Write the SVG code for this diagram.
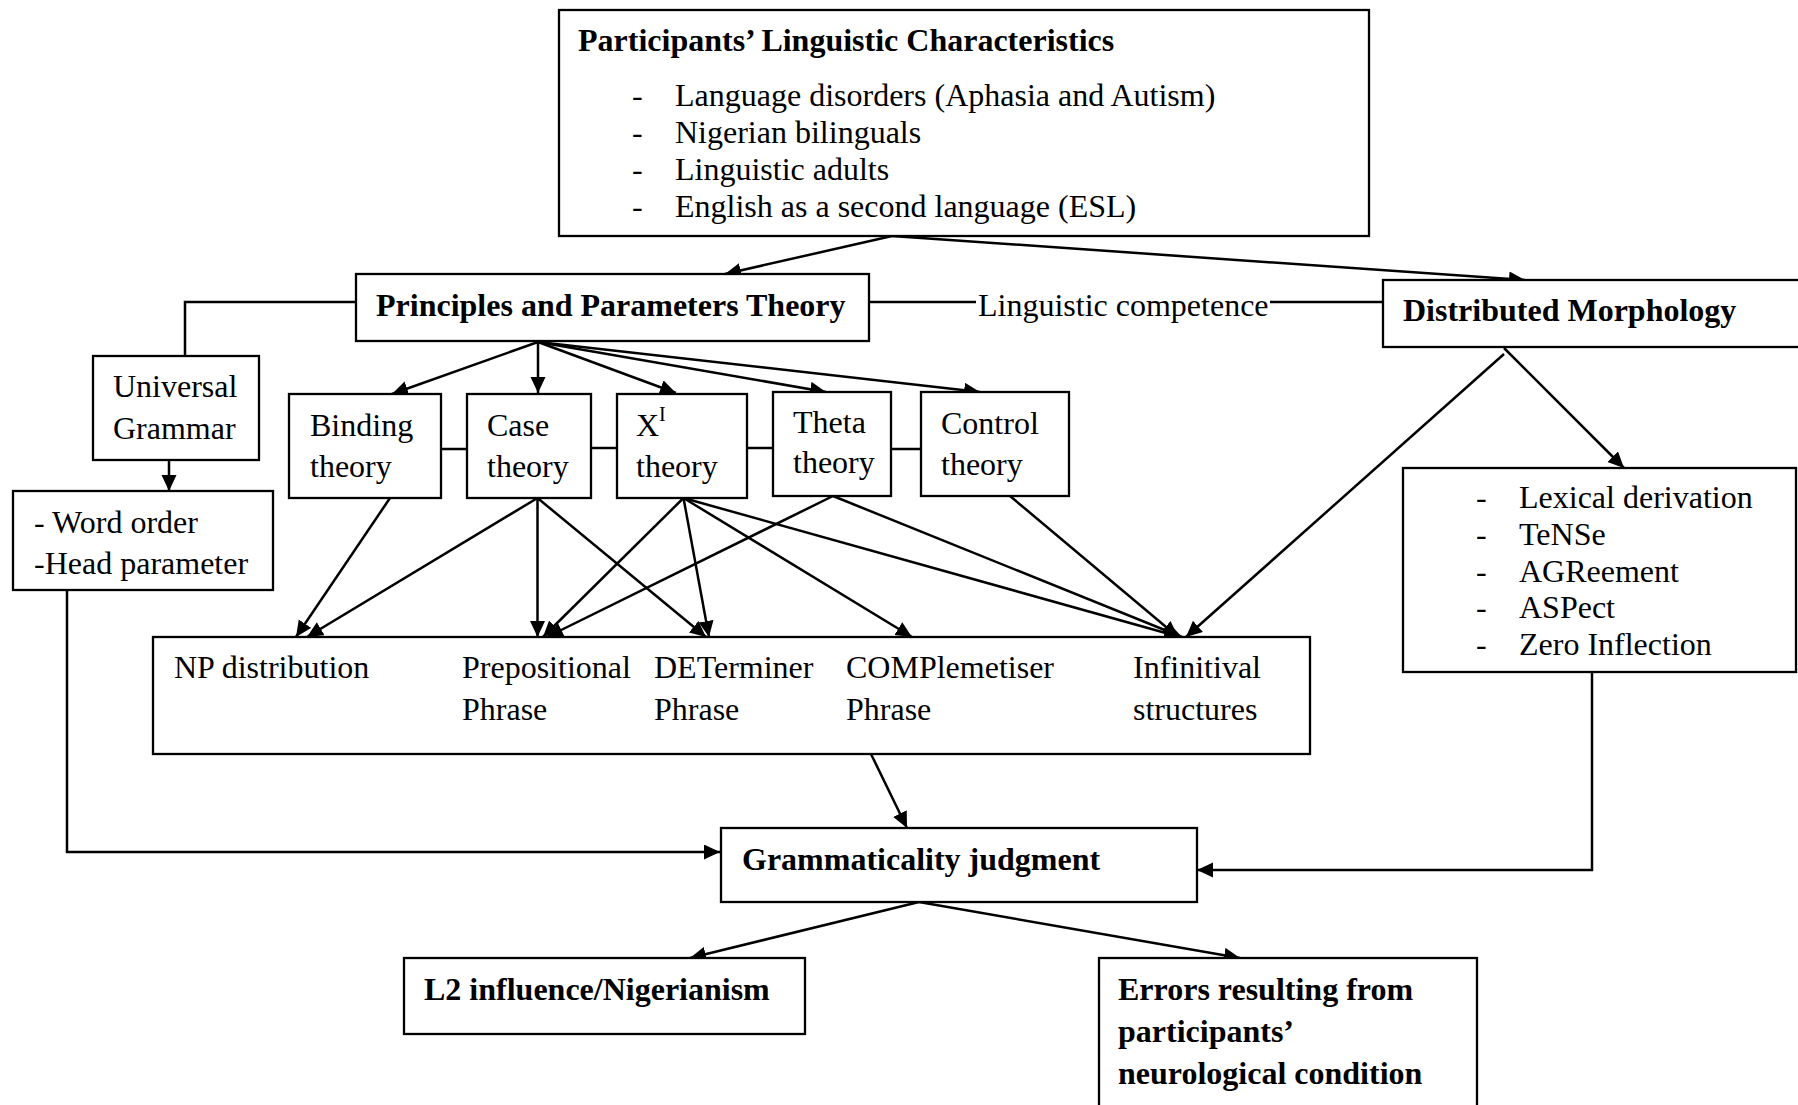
<svg xmlns="http://www.w3.org/2000/svg" width="1798" height="1105" viewBox="0 0 1798 1105">
<style>
text{font-family:"Liberation Serif","Times New Roman",serif;font-size:32px;fill:#000}
.b{font-weight:bold}
.box{fill:#fff;stroke:#000;stroke-width:2.3}
.c{fill:none;stroke:#000;stroke-width:2.5}
.a{fill:none;stroke:#000;stroke-width:2.5;marker-end:url(#ah)}
</style>
<defs>
<marker id="ah" markerUnits="userSpaceOnUse" markerWidth="17" markerHeight="16" refX="16" refY="7.5" orient="auto">
<path d="M0,0 L16,7.5 L0,15 z" fill="#000"/>
</marker>
</defs>
<rect width="1798" height="1105" fill="#fff"/>

<g id="connectors">
<line class="a" x1="892" y1="236" x2="725" y2="274"/>
<line class="a" x1="892" y1="236" x2="1525" y2="280"/>
<line class="c" x1="869" y1="302" x2="976" y2="302"/>
<line class="c" x1="1270" y1="302" x2="1383" y2="302"/>
<polyline class="c" points="356,302 185,302 185,356"/>
<line class="a" x1="169" y1="460" x2="169" y2="491"/>
<line class="a" x1="538" y1="342" x2="392" y2="394"/>
<line class="a" x1="538" y1="342" x2="538" y2="393"/>
<line class="a" x1="538" y1="342" x2="676" y2="393"/>
<line class="a" x1="538" y1="342" x2="826" y2="392"/>
<line class="a" x1="538" y1="342" x2="980" y2="392"/>
<line class="c" x1="441" y1="449" x2="467" y2="449"/>
<line class="c" x1="591" y1="448" x2="617" y2="448"/>
<line class="c" x1="747" y1="448" x2="773" y2="448"/>
<line class="c" x1="891" y1="449" x2="921" y2="449"/>
<line class="a" x1="390" y1="498" x2="296" y2="637"/>
<line class="a" x1="537.5" y1="498" x2="307" y2="637"/>
<line class="a" x1="537.5" y1="498" x2="537.5" y2="637"/>
<line class="a" x1="537.5" y1="498" x2="706" y2="637"/>
<line class="a" x1="683.5" y1="498" x2="543" y2="637"/>
<line class="a" x1="683.5" y1="498" x2="709" y2="637"/>
<line class="a" x1="683.5" y1="498" x2="912" y2="637"/>
<line class="a" x1="683.5" y1="498" x2="1180" y2="637"/>
<line class="a" x1="833" y1="496" x2="547" y2="637"/>
<line class="a" x1="833" y1="496" x2="1182" y2="637"/>
<line class="a" x1="1010" y1="496" x2="1178" y2="637"/>
<line class="a" x1="1504" y1="354" x2="1186" y2="637"/>
<line class="a" x1="1504" y1="348" x2="1624" y2="468"/>
<line class="a" x1="871" y1="754" x2="907" y2="828"/>
<polyline class="a" points="67,591 67,852 720,852"/>
<polyline class="a" points="1592,672 1592,870 1197,870"/>
<line class="a" x1="919" y1="902" x2="690" y2="958"/>
<line class="a" x1="919" y1="902" x2="1240" y2="958"/>
</g>

<g id="participants">
<rect class="box" x="559" y="10" width="810" height="226"/>
<text class="b" x="578" y="51">Participants’ Linguistic Characteristics</text>
<text x="632" y="106">-</text><text x="675" y="106">Language disorders (Aphasia and Autism)</text>
<text x="632" y="143">-</text><text x="675" y="143">Nigerian bilinguals</text>
<text x="632" y="180">-</text><text x="675" y="180">Linguistic adults</text>
<text x="632" y="217">-</text><text x="675" y="217">English as a second language (ESL)</text>
</g>

<g id="ppt">
<rect class="box" x="356" y="274" width="513" height="67"/>
<text class="b" x="376" y="316">Principles and Parameters Theory</text>
</g>

<g id="competence-label">
<text x="978" y="316">Linguistic competence</text>
</g>

<g id="dm">
<rect class="box" x="1383" y="280" width="420" height="67"/>
<text class="b" x="1403" y="321">Distributed Morphology</text>
</g>

<g id="ug">
<rect class="box" x="93" y="356" width="166" height="104"/>
<text x="113" y="397">Universal</text>
<text x="113" y="439">Grammar</text>
</g>

<g id="wordorder">
<rect class="box" x="13" y="491" width="260" height="99"/>
<text x="34" y="533">- Word order</text>
<text x="34" y="574">-Head parameter</text>
</g>

<g id="binding">
<rect class="box" x="289" y="394" width="152" height="104"/>
<text x="310" y="436">Binding</text>
<text x="310" y="477">theory</text>
</g>

<g id="case">
<rect class="box" x="467" y="394" width="124" height="104"/>
<text x="487" y="436">Case</text>
<text x="487" y="477">theory</text>
</g>

<g id="xbar">
<rect class="box" x="617" y="394" width="130" height="104"/>
<text x="636" y="436">X<tspan font-size="20" dy="-15">I</tspan></text>
<text x="636" y="477">theory</text>
</g>

<g id="theta">
<rect class="box" x="773" y="392" width="118" height="104"/>
<text x="793" y="433" font-size="28">Theta</text>
<text x="793" y="473" font-size="28">theory</text>
</g>

<g id="control">
<rect class="box" x="921" y="392" width="148" height="104"/>
<text x="941" y="434">Control</text>
<text x="941" y="475">theory</text>
</g>

<g id="phrases">
<rect class="box" x="153" y="637" width="1157" height="117"/>
<text x="174" y="678">NP distribution</text>
<text x="462" y="678">Prepositional</text>
<text x="462" y="720">Phrase</text>
<text x="654" y="678">DETerminer</text>
<text x="654" y="720">Phrase</text>
<text x="846" y="678">COMPlemetiser</text>
<text x="846" y="720">Phrase</text>
<text x="1133" y="678">Infinitival</text>
<text x="1133" y="720">structures</text>
</g>

<g id="lexical">
<rect class="box" x="1403" y="468" width="393" height="204"/>
<text x="1476" y="508">-</text><text x="1519" y="508">Lexical derivation</text>
<text x="1476" y="545">-</text><text x="1519" y="545">TeNSe</text>
<text x="1476" y="582">-</text><text x="1519" y="582">AGReement</text>
<text x="1476" y="618">-</text><text x="1519" y="618">ASPect</text>
<text x="1476" y="655">-</text><text x="1519" y="655">Zero Inflection</text>
</g>

<g id="gj">
<rect class="box" x="721" y="828" width="476" height="74"/>
<text class="b" x="742" y="870">Grammaticality judgment</text>
</g>

<g id="l2">
<rect class="box" x="404" y="958" width="401" height="76"/>
<text class="b" x="424" y="1000">L2 influence/Nigerianism</text>
</g>

<g id="errors">
<rect class="box" x="1099" y="958" width="378" height="160"/>
<text class="b" x="1118" y="1000">Errors resulting from</text>
<text class="b" x="1118" y="1042">participants’</text>
<text class="b" x="1118" y="1084">neurological condition</text>
</g>
</svg>
